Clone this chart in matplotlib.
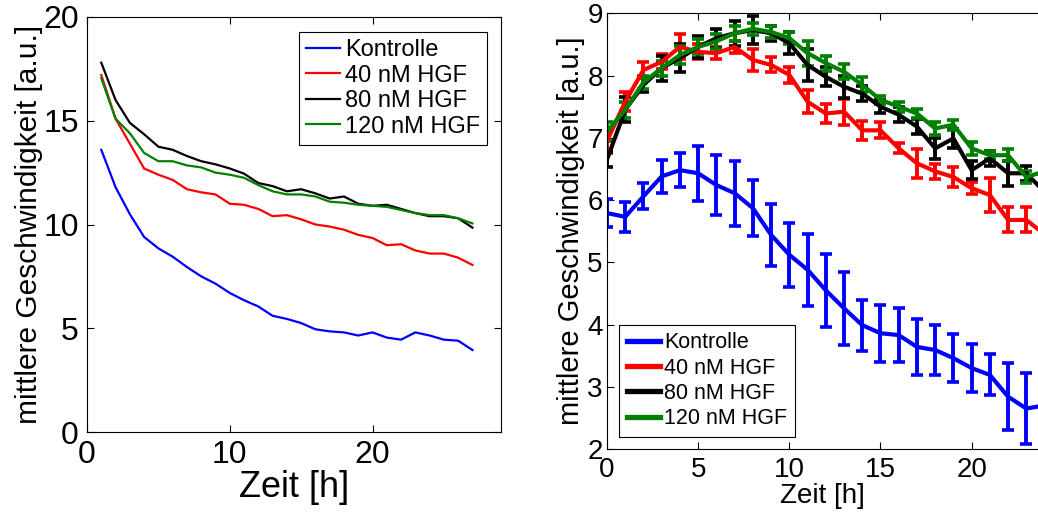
import numpy as np
from matplotlib import pyplot as plt
from matplotlib.lines import Line2D

plt.rcParams['font.family'] = ['Liberation Sans', 'DejaVu Sans']

LABELS = ["Kontrolle", "40 nM HGF", "80 nM HGF", "120 nM HGF"]
COLORS = ["#0000ff", "#ff0000", "#000000", "#008000"]

# left panel: mean speed, hours 1..27
t_left = np.arange(1, 28)
kontrolle_l = [13.6, 11.8, 10.5, 9.4, 8.85, 8.45, 7.95, 7.5, 7.15, 6.7, 6.35, 6.05, 5.6, 5.45,
               5.25, 4.95, 4.85, 4.8, 4.65, 4.8, 4.55, 4.45, 4.8, 4.65, 4.45, 4.4, 3.95]
hgf40_l = [17.2, 15.1, 13.9, 12.7, 12.4, 12.15, 11.7, 11.55, 11.45, 11.0, 10.95, 10.75, 10.4, 10.45,
           10.25, 10.0, 9.9, 9.75, 9.5, 9.35, 9.0, 9.05, 8.75, 8.6, 8.6, 8.4, 8.05]
hgf80_l = [17.8, 16.0, 14.9, 14.35, 13.75, 13.6, 13.3, 13.05, 12.9, 12.7, 12.45, 12.0, 11.85, 11.6,
           11.7, 11.5, 11.25, 11.35, 11.0, 10.9, 10.95, 10.75, 10.55, 10.4, 10.4, 10.3, 9.85]
hgf120_l = [17.05, 15.1, 14.4, 13.45, 13.05, 13.05, 12.85, 12.75, 12.5, 12.4, 12.25, 11.9, 11.6, 11.45,
            11.45, 11.35, 11.1, 11.05, 10.95, 10.9, 10.85, 10.7, 10.55, 10.45, 10.45, 10.3, 10.05]

# right panel: mean speed with error bars, hours 0..24
t_right = np.arange(0, 25)
kontrolle_r = [5.79, 5.73, 6.06, 6.38, 6.48, 6.43, 6.24, 6.11, 5.87, 5.44, 5.12, 4.88, 4.55, 4.26,
               3.99, 3.86, 3.83, 3.64, 3.59, 3.46, 3.30, 3.19, 2.84, 2.65, 2.7]
kontrolle_err = [0.23, 0.24, 0.21, 0.27, 0.27, 0.44, 0.48, 0.52, 0.45, 0.5, 0.51, 0.58, 0.59, 0.59,
                 0.41, 0.46, 0.43, 0.45, 0.40, 0.38, 0.39, 0.33, 0.54, 0.57, 0.5]
hgf40_r = [6.95, 7.58, 8.09, 8.22, 8.46, 8.38, 8.36, 8.46, 8.25, 8.17, 8.01, 7.58, 7.39, 7.42,
           7.12, 7.12, 6.83, 6.59, 6.46, 6.37, 6.19, 6.08, 5.68, 5.68, 5.45]
hgf40_err = [0.2, 0.15, 0.13, 0.12, 0.2, 0.12, 0.1, 0.1, 0.17, 0.12, 0.13, 0.18, 0.15, 0.21,
             0.15, 0.13, 0.08, 0.23, 0.12, 0.16, 0.1, 0.28, 0.2, 0.2, 0.2]
hgf80_r = [6.65, 7.45, 7.85, 8.12, 8.28, 8.46, 8.6, 8.68, 8.73, 8.68, 8.52, 8.17, 7.98, 7.82,
           7.71, 7.50, 7.37, 7.18, 6.83, 6.99, 6.48, 6.67, 6.43, 6.43, 6.13]
hgf80_err = [0.12, 0.2, 0.12, 0.2, 0.23, 0.18, 0.15, 0.2, 0.23, 0.12, 0.18, 0.25, 0.15, 0.18,
             0.12, 0.1, 0.12, 0.12, 0.17, 0.15, 0.15, 0.12, 0.2, 0.12, 0.15]
hgf120_r = [7.10, 7.45, 7.89, 8.12, 8.33, 8.46, 8.55, 8.68, 8.75, 8.70, 8.60, 8.36, 8.20, 8.06,
            7.85, 7.61, 7.50, 7.39, 7.15, 7.21, 6.83, 6.72, 6.72, 6.37, 6.46]
hgf120_err = [0.15, 0.13, 0.1, 0.12, 0.15, 0.12, 0.12, 0.12, 0.1, 0.1, 0.1, 0.2, 0.12, 0.12,
              0.12, 0.06, 0.08, 0.08, 0.1, 0.08, 0.1, 0.06, 0.1, 0.1, 0.1]

fig = plt.figure(figsize=(10.38, 5.13), dpi=100)

# ---- left
ax1 = fig.add_axes([87 / 1038, 1 - 432 / 513, 414 / 1038, 415 / 513])
for y, lab, c in zip([kontrolle_l, hgf40_l, hgf80_l, hgf120_l], LABELS, COLORS):
    ax1.plot(t_left, y, color=c, lw=1.6, label=lab)
ax1.set_xlim(0, 29)
ax1.set_ylim(0, 20)
ax1.set_xticks([0, 10, 20])
ax1.set_yticks([0, 5, 10, 15, 20])
ax1.tick_params(direction='in', top=True, right=True, length=5, width=0.8,
                labelsize=23, pad=6)
ax1.set_xlabel("Zeit [h]", fontsize=26, labelpad=0)
ax1.set_ylabel("mittlere Geschwindigkeit [a.u.]", fontsize=21.5, labelpad=0)
leg1 = ax1.legend(loc='upper right', bbox_to_anchor=(487 / 1038, 1 - 32 / 513),
                  bbox_transform=fig.transFigure, fontsize=17, fancybox=False,
                  edgecolor='black', framealpha=1, handlelength=1.45, handletextpad=0.2,
                  labelspacing=0.15, borderpad=0.3, borderaxespad=0)
leg1.get_frame().set_linewidth(0.8)

# ---- right
ax2 = fig.add_axes([607 / 1038, 1 - 449 / 513, 431 / 1038, 435.7 / 513])
for y, e, lab, c in zip([kontrolle_r, hgf40_r, hgf80_r, hgf120_r],
                        [kontrolle_err, hgf40_err, hgf80_err, hgf120_err], LABELS, COLORS):
    ax2.errorbar(t_right, y, yerr=e, color=c, lw=3.0, elinewidth=2.8, capsize=4.3,
                 capthick=2.6)
ax2.set_xlim(0, 23.64)
ax2.set_ylim(2, 9)
ax2.set_xticks([0, 5, 10, 15, 20])
ax2.set_yticks(range(2, 10))
ax2.spines['right'].set_visible(False)
ax2.tick_params(direction='in', top=True, right=False, length=5, width=0.8,
                labelsize=20, pad=3)
ax2.tick_params(axis='x', pad=6)
ax2.set_xlabel("Zeit [h]", fontsize=20, labelpad=0)
ax2.set_ylabel("mittlere Geschwindigkeit [a.u.]", fontsize=21, labelpad=2)
handles = [Line2D([], [], color=c, lw=3.8) for c in COLORS]
leg2 = ax2.legend(handles, LABELS, loc='lower left', bbox_to_anchor=(619 / 1038, 1 - 436.7 / 513),
                  bbox_transform=fig.transFigure, fontsize=15.5, fancybox=False,
                  edgecolor='black', framealpha=1, handlelength=1.55, handletextpad=0.2,
                  labelspacing=0.2, borderpad=0.35, borderaxespad=0)
leg2.get_frame().set_linewidth(0.8)

fig.savefig("out.png", dpi=100)
